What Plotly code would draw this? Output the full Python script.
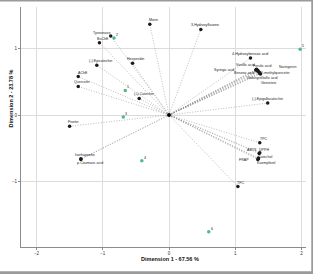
import plotly.graph_objects as go

# ---- data ----
var_names = ["Tyrosinase", "BuChE", "Morin", "3-Hydroxyflavone", "Hesperidin",
             "(-)-Epicatechin", "AChE", "Quercetin", "(+)-Catechin", "Fisetin",
             "Isorhapontin", "p-Coumaric acid", "4-Hydroxybenzoic acid",
             "Vanillic acid", "Ferulic acid", "Naringenin", "Syringic acid",
             "Benzoic acid", "3-O-methylquercetin", "Galangin", "Gallic acid",
             "Genistein", "(-)-Epigallocatechin", "TPC", "ABTS", "DPPH",
             "Catechol", "Kaempferol", "FRAP", "TFC"]
var_dim1 = [-0.88, -1.05, -0.29, 0.48, -0.55, -1.09, -1.37, -1.37, -0.45, -1.50,
            -1.33, -1.33, 1.23, 1.32, 1.33, 1.34, 1.31, 1.34, 1.36, 1.37, 1.37,
            1.38, 1.49, 1.37, 1.36, 1.37, 1.35, 1.35, 1.34, 1.04]
var_dim2 = [1.19, 1.09, 1.37, 1.29, 0.78, 0.75, 0.58, 0.43, 0.25, -0.17,
            -0.66, -0.67, 0.86, 0.69, 0.68, 0.67, 0.68, 0.66, 0.65, 0.63, 0.63,
            0.62, 0.18, -0.42, -0.58, -0.57, -0.65, -0.66, -0.67, -1.08]

obs_names = ["1", "2", "3", "4", "5", "6"]
obs_dim1 = [-0.66, -0.83, -0.69, -0.41, 1.98, 0.60]
obs_dim2 = [0.37, 1.16, -0.03, -0.69, 0.99, -1.76]

x_ticks = [-2, -1, 0, 1, 2]
y_ticks = [-2, -1, 0, 1]

# ---- label offsets (pixels, style only) ----
label_shift = [(-9, 3), (4, 4), (4, 4), (4, 4), (3, 4),
               (4, 4), (5, 4), (4, 4), (5, 4), (4, 4),
               (4, 4), (9, -4), (0, 4),
               (-11, 4), (5, 4), (30, 4), (-32, 0),
               (-14, -2), (14, -1), (-6, -5), (10, -5),
               (8, -9), (0, 4), (4, 4), (-7, 3), (4, 3),
               (7, 1), (8, -4), (-14, -1), (3, 4)]

FONT = "Liberation Sans, Arial, sans-serif"

fig = go.Figure()

# dotted vectors from origin
lx, ly = [], []
for xv, yv in zip(var_dim1, var_dim2):
    lx += [0, xv, None]
    ly += [0, yv, None]
fig.add_trace(go.Scatter(x=lx, y=ly, mode="lines",
                         line=dict(color="#8f8f8f", width=0.6, dash="1px,1.6px"),
                         hoverinfo="skip"))

# origin point
fig.add_trace(go.Scatter(x=[0], y=[0], mode="markers",
                         marker=dict(color="black", size=4)))

# variables
fig.add_trace(go.Scatter(x=var_dim1, y=var_dim2, mode="markers",
                         marker=dict(color="#1a1a1a", size=3.5), text=var_names))

# observations
fig.add_trace(go.Scatter(x=obs_dim1, y=obs_dim2, mode="markers",
                         marker=dict(color="#4fb98a", size=3.5), text=obs_names))

annotations = []
for name, xv, yv, (dx, dy) in zip(var_names, var_dim1, var_dim2, label_shift):
    annotations.append(dict(x=xv, y=yv, text=name, showarrow=False,
                            xshift=dx, yshift=dy,
                            font=dict(size=3.6, color="#222", family=FONT)))
for name, xv, yv in zip(obs_names, obs_dim1, obs_dim2):
    annotations.append(dict(x=xv, y=yv, text=name, showarrow=False,
                            xshift=3, yshift=3,
                            font=dict(size=3.6, color="#222", family=FONT)))

# axis titles
annotations.append(dict(xref="paper", yref="paper", x=0.523, y=-0.072,
                        text="<b>Dimension 1 - 67.56 %</b>", showarrow=False,
                        font=dict(size=5.5, color="#111", family=FONT)))
annotations.append(dict(xref="paper", yref="paper", x=-0.052, y=0.62,
                        text="<b>Dimension 2 - 23.78 %</b>", showarrow=False,
                        textangle=-90,
                        font=dict(size=5.5, color="#111", family=FONT)))

# outer frame (top, right, bottom)
shapes = [
    dict(type="line", xref="paper", yref="paper", x0=-0.08, x1=1.03,
         y0=1.027, y1=1.027, line=dict(color="#9a9a9a", width=2)),
    dict(type="line", xref="paper", yref="paper", x0=1.022, x1=1.022,
         y0=-0.12, y1=1.03, line=dict(color="#9a9a9a", width=2)),
    dict(type="line", xref="paper", yref="paper", x0=-0.08, x1=1.03,
         y0=-0.107, y1=-0.107, line=dict(color="#9a9a9a", width=3)),
]

axis_common = dict(showgrid=True, gridcolor="#dcdcdc", gridwidth=0.8,
                   zeroline=False, showline=True, linecolor="#8c8c8c",
                   linewidth=1, ticks="outside", ticklen=2, tickcolor="#8c8c8c",
                   tickfont=dict(size=4.5, color="#333", family=FONT))

fig.update_layout(
    width=313, height=274,
    margin=dict(l=21, r=7, t=7, b=27),
    paper_bgcolor="white", plot_bgcolor="white",
    showlegend=False,
    xaxis=dict(range=[-2.234, 2.068], tickvals=x_ticks, **axis_common),
    yaxis=dict(range=[-1.991, 1.629], tickvals=y_ticks, **axis_common),
    annotations=annotations,
    shapes=shapes,
)

fig.write_html("out.html")
